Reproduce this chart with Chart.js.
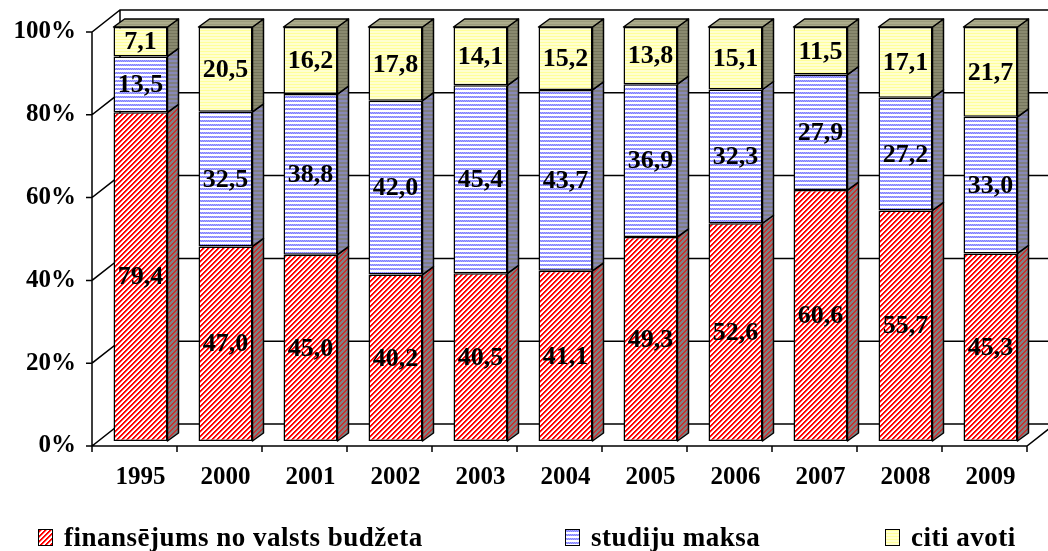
<!DOCTYPE html>
<html>
<head>
<meta charset="utf-8">
<script src="https://cdn.jsdelivr.net/npm/chart.js@4.4.0/dist/chart.umd.min.js"></script>
<style>
  html, body { margin: 0; padding: 0; background: #fff; }
  #wrap { position: relative; width: 1048px; height: 551px; overflow: hidden; }
  #chart { position: absolute; left: 0; top: 0; }
  .leg { position: absolute; top: 522px; padding-left: 26px; line-height: 30px; font: bold 27px "Liberation Serif", "Times New Roman", serif; letter-spacing: 0.5px; color: #000; white-space: nowrap; }
  .leg i { position: absolute; left: 0; top: 7px; width: 13px; height: 15px; border: 1.5px solid #000; }
</style>
</head>
<body>
<div id="wrap">
  <canvas id="chart" width="1048" height="551"></canvas>
  <div id="legend"></div>
</div>
<script>
// data (percent of total funding)
const years = ["1995", "2000", "2001", "2002", "2003", "2004", "2005", "2006", "2007", "2008", "2009"];
const budget = [79.4, 47.0, 45.0, 40.2, 40.5, 41.1, 49.3, 52.6, 60.6, 55.7, 45.3];
const fees   = [13.5, 32.5, 38.8, 42.0, 45.4, 43.7, 36.9, 32.3, 27.9, 27.2, 33.0];
const other  = [7.1, 20.5, 16.2, 17.8, 14.1, 15.2, 13.8, 15.1, 11.5, 17.1, 21.7];
const seriesNames = ["finansējums no valsts budžeta", "studiju maksa", "citi avoti"];
const yTicks = [0, 20, 40, 60, 80, 100];

// pseudo 3d offsets (px)
const DEPTH = { dx: 11, dy: -8 };   // bar depth
const FRONT = { dx: -6, dy: 5 };    // front axis plane
const BACK  = { dx: 22, dy: -17 };  // back wall

function tile(w, h, fn) {
  const c = document.createElement("canvas");
  c.width = w; c.height = h;
  const g = c.getContext("2d");
  for (let y = 0; y < h; y++)
    for (let x = 0; x < w; x++) {
      g.fillStyle = fn(x, y);
      g.fillRect(x, y, 1, 1);
    }
  return c;
}

const redTile = tile(5, 5, (x, y) => { const k = (x + y) % 5; return k < 2 ? "#ff0000" : k == 2 ? "#ff9090" : "#ffffff"; });
const redSide = tile(5, 5, (x, y) => { const k = (x + y) % 5; return k < 2 ? "#c83030" : "#808080"; });
const blueTile = tile(4, 4, (x, y) => y == 0 ? (x % 2 ? "#a8a8ff" : "#8080ff") : y == 1 ? (x % 2 ? "#8080ff" : "#a8a8ff") : "#ffffff");
const blueSide = tile(4, 4, (x, y) => y < 2 ? "#8888b8" : "#808080");
const yelTile = tile(1, 3, (x, y) => y == 0 ? "#ffff99" : "#ffffd0");
const yelSide = tile(1, 3, (x, y) => y == 0 ? "#76765c" : "#8a8a70");
const yelTop  = tile(1, 3, (x, y) => y == 0 ? "#9c9c7c" : "#acac8c");

const ctx = document.getElementById("chart").getContext("2d");
const pat = c => ctx.createPattern(c, "repeat");
const fronts = [pat(redTile), pat(blueTile), pat(yelTile)];
const sides = [pat(redSide), pat(blueSide), pat(yelSide)];
const topFace = pat(yelTop);

const fmt = v => v.toFixed(1).replace(".", ",");

const box3d = {
  id: "box3d",
  beforeDatasetsDraw(chart) {
    const g = chart.ctx, a = chart.chartArea, ys = chart.scales.y;
    const fx = a.left + FRONT.dx, bx = a.left + BACK.dx;
    const fr = a.right + FRONT.dx, br = a.right + BACK.dx;
    const fy = v => ys.getPixelForValue(v) + FRONT.dy;
    const by = v => ys.getPixelForValue(v) + BACK.dy;
    g.save();
    g.strokeStyle = "#000";
    g.lineWidth = 1.5;
    g.beginPath();
    yTicks.forEach(v => {
      g.moveTo(fx - 6, fy(v)); g.lineTo(fx, fy(v));
      g.lineTo(bx, by(v)); g.lineTo(br, by(v));
    });
    g.moveTo(fx, fy(0) + 6); g.lineTo(fx, fy(100));
    g.moveTo(bx, by(0)); g.lineTo(bx, by(100));
    g.moveTo(fx, fy(0)); g.lineTo(fr, fy(0)); g.lineTo(br, by(0));
    const step = (a.right - a.left) / years.length;
    for (let i = 1; i <= years.length; i++) {
      g.moveTo(fx + i * step, fy(0)); g.lineTo(fx + i * step, fy(0) + 6);
    }
    g.stroke();
    g.fillStyle = "#000";
    g.font = 'bold 25px "Liberation Serif"';
    g.textAlign = "right";
    g.textBaseline = "middle";
    yTicks.forEach(v => g.fillText(v + "%", fx - 16, fy(v)));
    g.restore();
  },
  afterDatasetsDraw(chart) {
    const g = chart.ctx;
    const n = chart.data.datasets.length;
    g.save();
    g.strokeStyle = "#000";
    g.lineWidth = 1.5;
    g.lineJoin = "round";
    const boxes = [];
    for (let d = 0; d < n; d++) {
      chart.getDatasetMeta(d).data.forEach((el, i) => {
        const p = el.getProps(["x", "y", "base", "width"], true);
        const l = p.x - p.width / 2, r = p.x + p.width / 2;
        const t = Math.min(p.y, p.base), b = Math.max(p.y, p.base);
        boxes.push({ d, i, l, r, t, b, cx: p.x });
        g.fillStyle = sides[d];
        g.beginPath();
        g.moveTo(r, t); g.lineTo(r + DEPTH.dx, t + DEPTH.dy);
        g.lineTo(r + DEPTH.dx, b + DEPTH.dy); g.lineTo(r, b);
        g.closePath(); g.fill(); g.stroke();
        if (d == n - 1) {
          g.fillStyle = topFace;
          g.beginPath();
          g.moveTo(l, t); g.lineTo(l + DEPTH.dx, t + DEPTH.dy);
          g.lineTo(r + DEPTH.dx, t + DEPTH.dy); g.lineTo(r, t);
          g.closePath(); g.fill(); g.stroke();
        }
      });
    }
    g.fillStyle = "#000";
    g.font = 'bold 26px "Liberation Serif"';
    g.textAlign = "center";
    g.textBaseline = "middle";
    boxes.forEach(bx => {
      const v = chart.data.datasets[bx.d].data[bx.i];
      g.fillText(fmt(v), bx.cx, (bx.t + bx.b) / 2 + 1);
    });
    g.restore();
  }
};

const sets = [budget, fees, other];
new Chart(ctx, {
  type: "bar",
  data: {
    labels: years,
    datasets: sets.map((s, k) => ({
      label: seriesNames[k],
      data: s,
      backgroundColor: fronts[k],
      borderColor: "#000",
      borderWidth: 1.5,
      borderSkipped: false,
      categoryPercentage: 1,
      barPercentage: 0.635
    }))
  },
  options: {
    responsive: false,
    animation: false,
    layout: { padding: { left: 98, right: 15, top: 27, bottom: 65 } },
    plugins: { legend: { display: false }, tooltip: { enabled: false } },
    scales: {
      x: {
        stacked: true,
        grid: { display: false },
        border: { display: false },
        ticks: { color: "#000", font: { family: "Liberation Serif", size: 25, weight: "bold" }, padding: 14, maxRotation: 0, autoSkip: false },
        afterFit(s) { s.height = 45; }
      },
      y: { stacked: true, min: 0, max: 100, display: false }
    }
  },
  plugins: [box3d]
});

// legend as html text
const legLeft = [38, 565, 885];
const swatches = [redTile, blueTile, yelTile];
document.getElementById("legend").innerHTML = seriesNames.map((s, k) =>
  `<div class="leg" style="left:${legLeft[k]}px"><i style="background-image:url(${swatches[k].toDataURL()})"></i>${s}</div>`
).join("");
</script>
</body>
</html>
